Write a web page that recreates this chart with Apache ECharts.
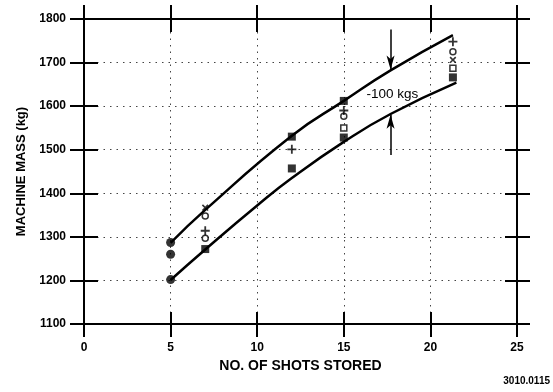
<!DOCTYPE html>
<html>
<head>
<meta charset="utf-8">
<script src="https://cdn.jsdelivr.net/npm/echarts@6/dist/echarts.min.js"></script>
<style>
	html, body { margin: 0; padding: 0; background: #fff; }
	#chart { width: 553px; height: 392px; }
</style>
</head>
<body>
<div id="chart"></div>
<script>
(function() {
	// x ticks / y ticks
	var xTicks = [0, 5, 10, 15, 20, 25];
	var yTicks = [1100, 1200, 1300, 1400, 1500, 1600, 1700, 1800];

	// measured points, grouped by marker shape [shots, kg]
	var filledCircles = [[5, 1287], [5, 1260], [5, 1202]];
	var filledSquares = [[7, 1272], [12, 1530], [12, 1457], [15, 1612], [15, 1528], [21.3, 1666]];
	var openCircles = [[7, 1348], [7, 1297], [15, 1577], [21.3, 1725]];
	var plusMarks = [[7, 1314], [12, 1501], [15, 1590], [21.3, 1748]];
	var crossMarks = [[7, 1367], [21.3, 1706]];
	var openSquares = [[15, 1550], [21.3, 1687]];

	// fitted curves (upper / lower)
	var upperCurve = [[5, 1286], [7, 1362], [12, 1532], [15, 1612], [17.7, 1682], [21.3, 1763]];
	var lowerCurve = [[5, 1201], [7, 1271], [10, 1372], [12, 1435], [15, 1518], [17.7, 1582], [21.5, 1654]];

	// annotation arrows (x, from, to)
	var arrowX = 17.7;
	var upperArrow = [1776, 1684];
	var lowerArrow = [1488, 1580];
	var gapLabel = '-100 kgs';

	var FONT = 'Liberation Sans, Arial, sans-serif';
	var plusPath = 'path://M4,0H6V4H10V6H6V10H4V6H0V4H4Z';

	function xAxisDef(pos, inside, len, main) {
		return {
			type: 'value', position: pos, min: xTicks[0], max: xTicks[xTicks.length - 1], interval: 5,
			axisLine: { show: true, onZero: false, lineStyle: { color: '#000', width: 2 } },
			axisTick: { show: true, inside: inside, length: len, lineStyle: { color: '#000', width: 2 } },
			axisLabel: main ? { show: true, margin: 18, color: '#000', fontFamily: FONT, fontSize: 12, fontWeight: 'bold' } : { show: false },
			splitLine: main ? { show: true, lineStyle: { color: '#444', width: 1, type: [1.5, 5] } } : { show: false },
			name: main ? 'NO. OF SHOTS STORED' : '',
			nameLocation: 'middle', nameGap: 32,
			nameTextStyle: { color: '#000', fontFamily: FONT, fontSize: 14, fontWeight: 'bold' }
		};
	}

	function yAxisDef(pos, inside, len, main) {
		return {
			type: 'value', position: pos, min: yTicks[0], max: yTicks[yTicks.length - 1], interval: 100,
			axisLine: { show: true, onZero: false, lineStyle: { color: '#000', width: 2 } },
			axisTick: { show: true, inside: inside, length: len, lineStyle: { color: '#000', width: 2 } },
			axisLabel: main ? {
				show: true, margin: 18, color: '#000', fontFamily: FONT, fontSize: 12, fontWeight: 'bold',
				formatter: function(v) { return String(v); }
			} : { show: false },
			splitLine: main ? { show: true, lineStyle: { color: '#444', width: 1, type: [1.5, 5] } } : { show: false },
			name: main ? 'MACHINE MASS (kg)' : '',
			nameLocation: 'middle', nameGap: 52, nameRotate: 90,
			nameTextStyle: { color: '#000', fontFamily: FONT, fontSize: 13, fontWeight: 'bold' }
		};
	}

	function markerSeries(data, symbol, size, filled, rotate) {
		return {
			type: 'scatter', data: data, symbol: symbol, symbolSize: size,
			symbolRotate: rotate || 0, z: 5,
			itemStyle: filled ? { color: '#000' } : { color: '#fff', borderColor: '#000', borderWidth: 1.5 }
		};
	}

	function curveSeries(data) {
		return {
			type: 'line', data: data, smooth: 0.5, showSymbol: false, symbol: 'none',
			lineStyle: { color: '#000', width: 2.5 }, z: 4
		};
	}

	var chart = echarts.init(document.getElementById('chart'), null, { renderer: 'canvas' });
	chart.setOption({
		animation: false,
		backgroundColor: '#fff',
		grid: { left: 84, right: 36, top: 19, bottom: 68, containLabel: false },
		xAxis: [
			xAxisDef('bottom', false, 13, true),
			xAxisDef('bottom', true, 12, false),
			xAxisDef('top', false, 14, false),
			xAxisDef('top', true, 13, false)
		],
		yAxis: [
			yAxisDef('left', false, 14, true),
			yAxisDef('left', true, 14, false),
			yAxisDef('right', false, 13, false),
			yAxisDef('right', true, 12, false)
		],
		series: [
			curveSeries(upperCurve),
			curveSeries(lowerCurve),
			markerSeries(filledCircles, 'circle', 9, true),
			markerSeries(filledSquares, 'rect', 8, true),
			markerSeries(openCircles, 'circle', 6, false),
			markerSeries(openSquares, 'rect', 6, false),
			markerSeries(plusMarks, plusPath, 9, true),
			markerSeries(crossMarks, plusPath, 8, true, 45),
			{
				type: 'line', data: [], silent: true,
				markLine: {
					silent: true, animation: false,
					symbol: ['none', 'arrow'], symbolSize: [6, 14],
					label: { show: false },
					lineStyle: { color: '#000', width: 1.5, type: 'solid' },
					data: [
						[{ coord: [arrowX, upperArrow[0]] }, { coord: [arrowX, upperArrow[1]] }],
						[{ coord: [arrowX, lowerArrow[0]] }, { coord: [arrowX, lowerArrow[1]] }]
					]
				},
				markPoint: {
					silent: true, symbol: 'circle', symbolSize: 0,
					label: { show: true, position: 'inside', formatter: gapLabel, color: '#000', fontFamily: FONT, fontSize: 13.5 },
					data: [{ coord: [17.8, 1628] }]
				}
			}
		],
		graphic: [{
			type: 'text', right: 3, top: 376,
			style: { text: '3010.0115', fill: '#000', font: 'bold 10px ' + FONT }
		}]
	});
})();
</script>
</body>
</html>
